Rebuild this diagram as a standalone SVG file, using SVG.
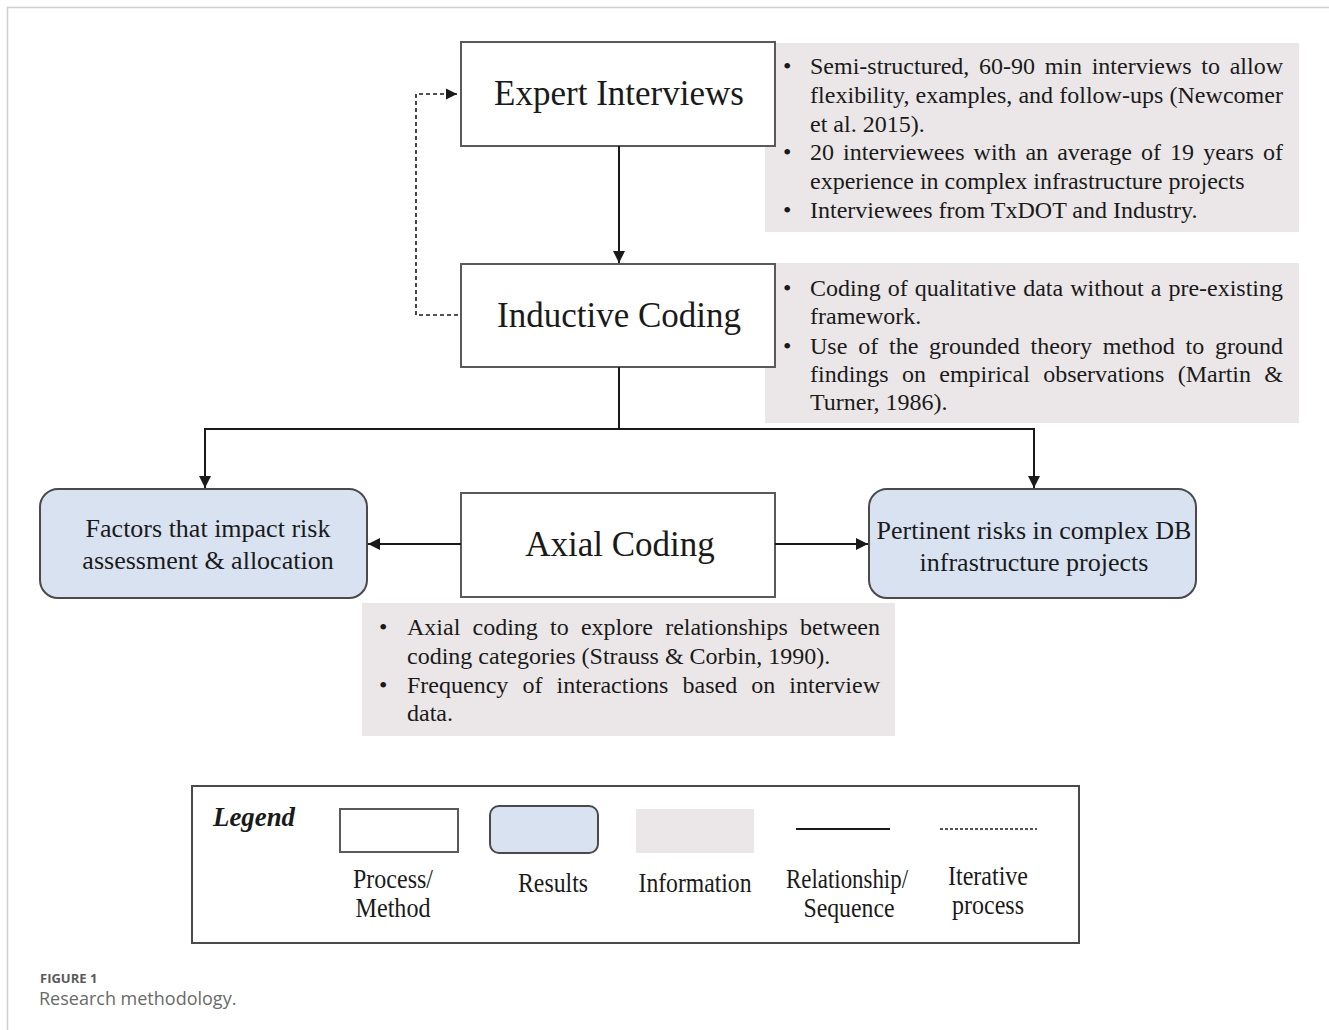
<svg xmlns="http://www.w3.org/2000/svg" width="1329" height="1030" viewBox="0 0 1329 1030">
<style>
.t{font-family:"Liberation Serif","Times New Roman",serif;fill:#1a1a1a}
.title{font-size:35px;text-anchor:middle}
.res{font-size:26px;text-anchor:middle}
.info{font-size:24px}
.leg{font-size:27px;text-anchor:middle}
.proc{fill:#ffffff;stroke:#5a5a5a;stroke-width:2}
.result{fill:#d9e2f1;stroke:#4a4a4a;stroke-width:2}
.infobox{fill:#ebe7e8}
.conn{fill:none;stroke:#1a1a1a;stroke-width:2}
.dash{fill:none;stroke:#1a1a1a;stroke-width:1.6;stroke-dasharray:4 3}
.cap{font-family:"Open Sans","Noto Sans",sans-serif}
</style>
<defs>
<marker id="arr" viewBox="0 0 10 10" refX="10" refY="5" markerWidth="6" markerHeight="6" orient="auto" markerUnits="strokeWidth">
<path d="M0,0 L10,5 L0,10 z" fill="#1a1a1a"/>
</marker>
<marker id="arrd" viewBox="0 0 10 10" refX="10" refY="5" markerWidth="7" markerHeight="7" orient="auto" markerUnits="strokeWidth">
<path d="M0,0 L10,5 L0,10 z" fill="#1a1a1a"/>
</marker>
</defs>
<rect width="1329" height="1030" fill="#ffffff"/>
<path d="M7.5,1030 V7.5 H1329" fill="none" stroke="#cfcfcf" stroke-width="1.5"/>

<g id="info1">
<rect class="infobox" x="765" y="43" width="534" height="189"/>
<g class="t info">
<text x="783" y="74">•</text>
<text x="810" y="74" word-spacing="3.7" textLength="473" lengthAdjust="spacing">Semi-structured, 60-90 min interviews to allow</text>
<text x="810" y="103" textLength="473" lengthAdjust="spacing">flexibility, examples, and follow-ups (Newcomer</text>
<text x="810" y="132">et al. 2015).</text>
<text x="783" y="160">•</text>
<text x="810" y="160" word-spacing="3.1" textLength="473" lengthAdjust="spacing">20 interviewees with an average of 19 years of</text>
<text x="810" y="189">experience in complex infrastructure projects</text>
<text x="783" y="218">•</text>
<text x="810" y="218">Interviewees from TxDOT and Industry.</text>
</g>
</g>

<g id="info2">
<rect class="infobox" x="765" y="263" width="534" height="160"/>
<g class="t info">
<text x="783" y="296">•</text>
<text x="810" y="296" word-spacing="1.1" textLength="473" lengthAdjust="spacing">Coding of qualitative data without a pre-existing</text>
<text x="810" y="324">framework.</text>
<text x="783" y="354">•</text>
<text x="810" y="354" word-spacing="4.8" textLength="473" lengthAdjust="spacing">Use of the grounded theory method to ground</text>
<text x="810" y="382" word-spacing="7.3" textLength="473" lengthAdjust="spacing">findings on empirical observations (Martin &amp;</text>
<text x="810" y="410">Turner, 1986).</text>
</g>
</g>

<g id="info3">
<rect class="infobox" x="362" y="603" width="533" height="133"/>
<g class="t info">
<text x="379" y="635">•</text>
<text x="407" y="635" word-spacing="6.2" textLength="473" lengthAdjust="spacing">Axial coding to explore relationships between</text>
<text x="407" y="664">coding categories (Strauss &amp; Corbin, 1990).</text>
<text x="379" y="693">•</text>
<text x="407" y="693" word-spacing="8.1" textLength="473" lengthAdjust="spacing">Frequency of interactions based on interview</text>
<text x="407" y="721">data.</text>
</g>
</g>

<g id="expert">
<rect class="proc" x="461" y="42" width="314" height="104"/>
<text class="t title" x="619" y="105">Expert Interviews</text>
</g>

<g id="inductive">
<rect class="proc" x="461" y="264" width="314" height="103"/>
<text class="t title" x="619" y="327">Inductive Coding</text>
</g>

<g id="axial">
<rect class="proc" x="461" y="493" width="314" height="104"/>
<text class="t title" x="620" y="556">Axial Coding</text>
</g>

<g id="factors">
<rect class="result" x="40" y="489" width="327" height="109" rx="18"/>
<text class="t res" x="208" y="537">Factors that impact risk</text>
<text class="t res" x="208" y="569">assessment &amp; allocation</text>
</g>

<g id="pertinent">
<rect class="result" x="869" y="489" width="327" height="109" rx="18"/>
<text class="t res" x="1034" y="539">Pertinent risks in complex DB</text>
<text class="t res" x="1034" y="571">infrastructure projects</text>
</g>

<g id="connectors">
<path class="conn" d="M619,146 V263" marker-end="url(#arr)"/>
<path class="conn" d="M619,367 V429"/>
<path class="conn" d="M205,429 H1034"/>
<path class="conn" d="M205,428 V488" marker-end="url(#arr)"/>
<path class="conn" d="M1034,428 V488" marker-end="url(#arr)"/>
<path class="conn" d="M461,544 H368" marker-end="url(#arr)"/>
<path class="conn" d="M775,544 H868" marker-end="url(#arr)"/>
<path class="dash" d="M458,315 H416 V94 H457" marker-end="url(#arrd)"/>
</g>

<g id="legend">
<rect x="192" y="786" width="887" height="157" fill="#ffffff" stroke="#4a4a4a" stroke-width="2"/>
<text class="t" x="213" y="826" font-size="28" font-weight="bold" font-style="italic" textLength="82" lengthAdjust="spacingAndGlyphs">Legend</text>
<rect class="proc" x="340" y="809" width="118" height="43"/>
<rect class="result" x="490" y="806" width="108" height="47" rx="9"/>
<rect class="infobox" x="636" y="809" width="118" height="44"/>
<path d="M796,829 H890" stroke="#1a1a1a" stroke-width="2"/>
<path d="M940,829 H1037" stroke="#1a1a1a" stroke-width="1.5" stroke-dasharray="3 2"/>
<text class="t leg" x="393" y="888" textLength="80" lengthAdjust="spacingAndGlyphs">Process/</text>
<text class="t leg" x="393" y="917" textLength="75" lengthAdjust="spacingAndGlyphs">Method</text>
<text class="t leg" x="553" y="892" textLength="70" lengthAdjust="spacingAndGlyphs">Results</text>
<text class="t leg" x="695" y="892" textLength="113" lengthAdjust="spacingAndGlyphs">Information</text>
<text class="t leg" x="847" y="888" textLength="122" lengthAdjust="spacingAndGlyphs">Relationship/</text>
<text class="t leg" x="849" y="917" textLength="91" lengthAdjust="spacingAndGlyphs">Sequence</text>
<text class="t leg" x="988" y="885" textLength="80" lengthAdjust="spacingAndGlyphs">Iterative</text>
<text class="t leg" x="988" y="914" textLength="72" lengthAdjust="spacingAndGlyphs">process</text>
</g>

<g id="caption">
<text class="cap" x="40" y="983" font-size="13" font-weight="bold" fill="#5a5a5a">FIGURE 1</text>
<text class="cap" x="39" y="1005" font-size="18" fill="#6a6a6a">Research methodology.</text>
</g>
</svg>
